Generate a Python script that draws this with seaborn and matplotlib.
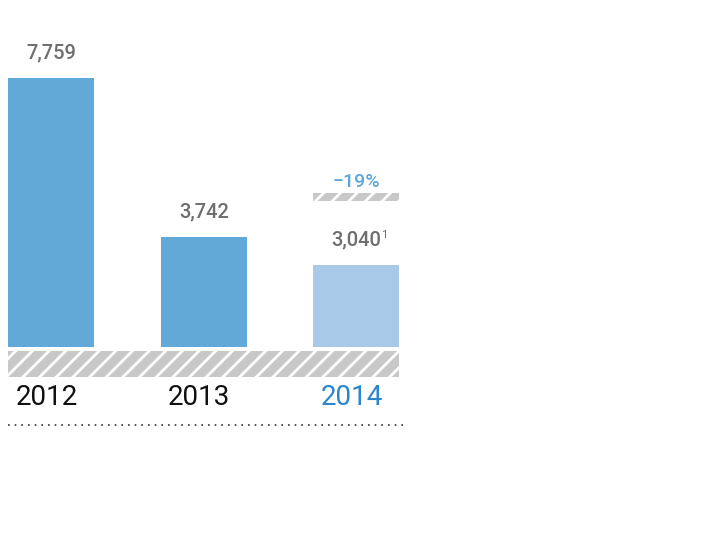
import matplotlib
matplotlib.use('Agg')
import matplotlib.pyplot as plt
import seaborn as sns
import pandas as pd

# data
years = ['2012', '2013', '2014']
values = [7759, 3742, 3040]
value_labels = ['7,759', '3,742', '3,040']
change_label = '\u221219%'

bar_colors = ['#63a9d7', '#63a9d7', '#a9c9e9']
year_colors = ['#111111', '#111111', '#2b86cc']
label_grey = '#6e6e6e'

df = pd.DataFrame({'year': years, 'value': values})

sns.set_style('white')
plt.rcParams['font.family'] = ['Roboto', 'DejaVu Sans']
plt.rcParams['hatch.color'] = 'white'
plt.rcParams['hatch.linewidth'] = 2.0

fig = plt.figure(figsize=(7.09, 5.5), dpi=100)
ax = fig.add_axes([0, 0, 1, 1])

bar_w = 0.563
sns.barplot(data=df, x='year', y='value', hue='year', palette=bar_colors,
            width=bar_w, legend=False, ax=ax, saturation=1, linewidth=0)

# bars start above the axis break (hatched band)
base = 963
for p in ax.patches:
    h = p.get_height()
    p.set_y(base)
    p.set_height(h - base)

ax.set_xlim(-0.334, 4.308)
ax.set_ylim(-4166, 9729)
ax.axis('off')

# hatched band under the bars
x0, x1 = -bar_w / 2, 2 + bar_w / 2
ax.fill_between([x0, x1], 205, 862, facecolor='#c8c8c8', hatch='//',
                edgecolor='white', linewidth=0, zorder=3)
# small hatched marker above the 2014 bar
ax.fill_between([2 - bar_w / 2, 2 + bar_w / 2], 4651, 4853, facecolor='#c8c8c8',
                hatch='//', edgecolor='white', linewidth=0, zorder=3)

# value labels
for i, (v, lab) in enumerate(zip(values, value_labels)):
    ax.annotate(lab, (i, v), xytext=(0, 14), textcoords='offset points',
                ha='center', va='baseline', fontsize=14.5, fontweight='medium',
                color=label_grey)
# footnote mark after 3,040
ax.text(2.178, 3716, '1', ha='center', va='baseline', fontsize=8,
        color=label_grey)
ax.text(2, 5005, change_label, ha='center', va='baseline', fontsize=14,
        fontweight='medium', color='#5da6dc')

# year labels
for i, y in enumerate(years):
    ax.text(i - 0.03, -503, y, ha='center', va='baseline', fontsize=20,
            fontweight='normal', color=year_colors[i])

# dotted rule
ax.plot([x0, x1 + 0.02], [-1008, -1008], color='#333333', lw=1.2,
        linestyle=(0, (1, 3)))

fig.savefig('out.png', dpi=100)
